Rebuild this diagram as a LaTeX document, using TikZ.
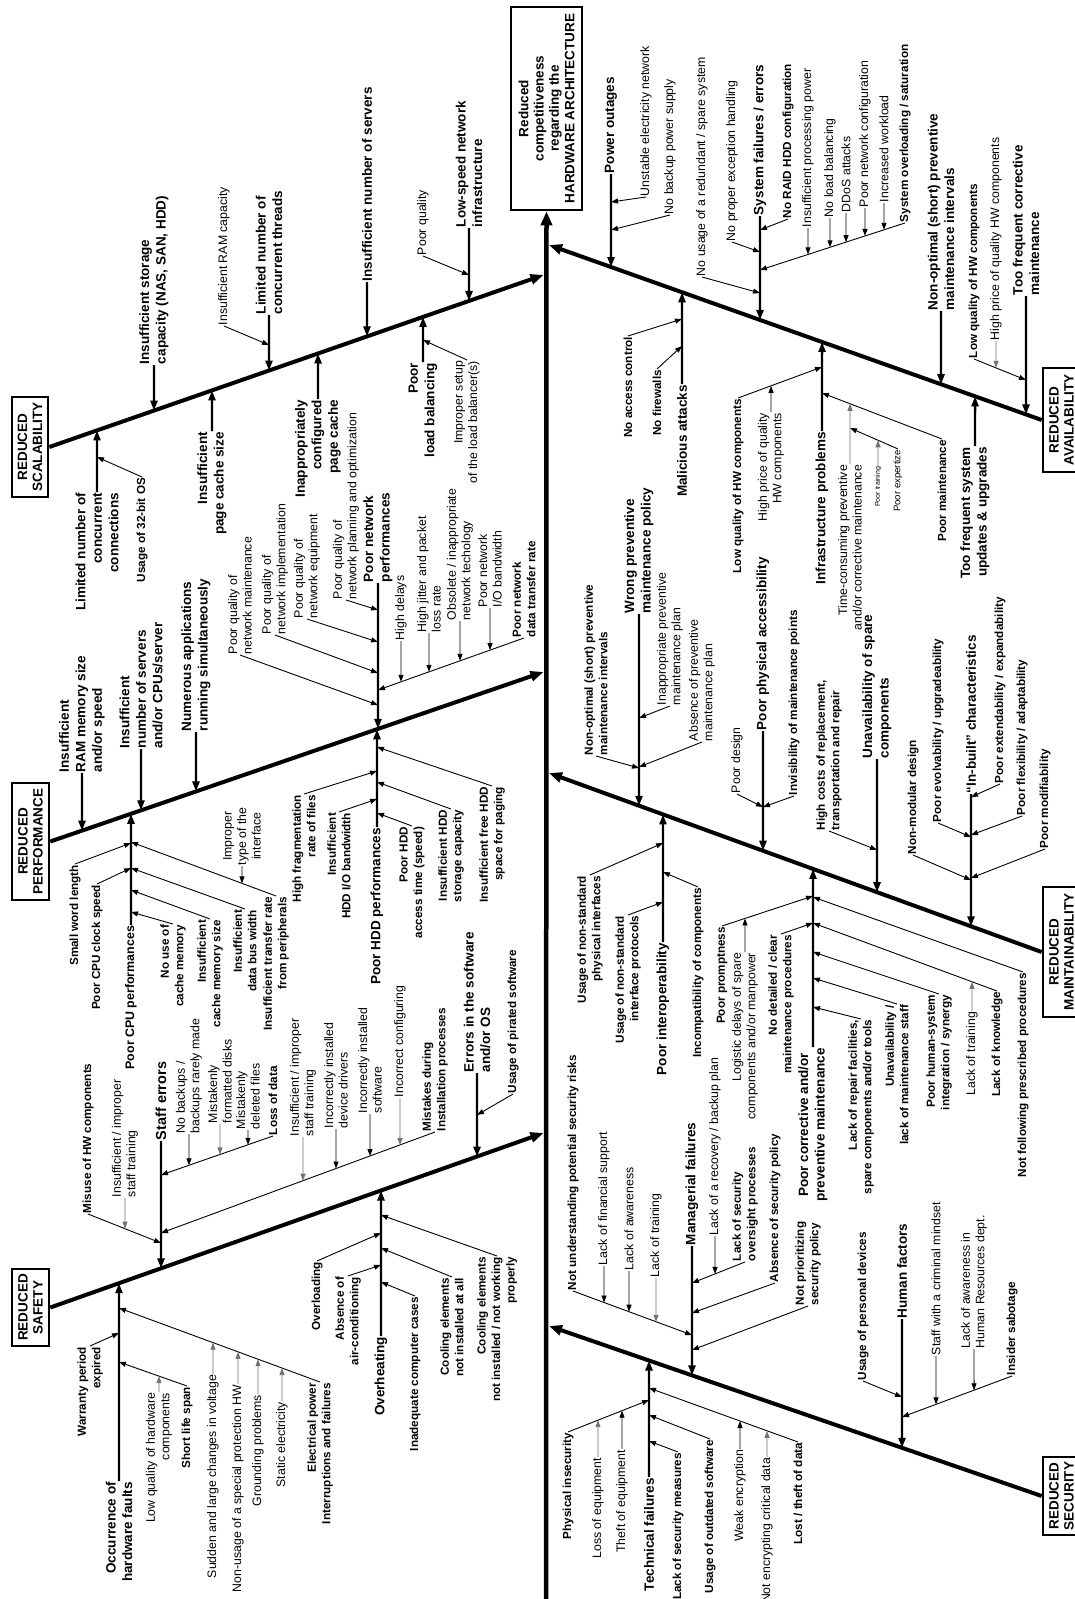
\documentclass[tikz,border=0pt]{standalone}
\usepackage{fontspec}
\setmainfont{Liberation Sans}
\usetikzlibrary{arrows.meta}
\tikzset{
  lbl/.style={rotate=90, inner sep=0.8pt},
  bb/.style={lbl, font=\bfseries\fontsize{13.5}{16.5}\selectfont},
  bm/.style={lbl, font=\bfseries\fontsize{12.4}{15}\selectfont},
  bs/.style={lbl, font=\bfseries\fontsize{11.7}{14.5}\selectfont},
  rr/.style={lbl, font=\fontsize{12.3}{14.5}\selectfont},
  outbox/.style={draw, line width=2.6pt, rotate=90, inner sep=0pt, align=center, font=\bfseries\fontsize{13.5}{15}\selectfont},
  spine/.style={line width=4.5pt, -{Triangle[length=14pt,width=11pt]}},
  rib/.style={line width=4pt, -{Triangle[length=13pt,width=10pt]}},
  stem/.style={line width=2.4pt, -{Triangle[length=10pt,width=7pt]}},
  sub/.style={line width=0.9pt, -{Triangle[length=7pt,width=5pt]}},
  greyline/.style={draw=black!55},
}
\newcommand{\fbdown}[2]{\draw[stem] (#1.west) -- (intersection of #2a--#2b and #1.west--#1.east);}
\newcommand{\fbup}[2]{\draw[stem] (#1.east) -- (intersection of #2a--#2b and #1.west--#1.east);}
\newcommand{\fbonto}[4]{\draw[sub] (#1.#2) -- (intersection of #3--#4 and #1.west--#1.east);}
\newcommand{\fbontog}[4]{\draw[sub,greyline] (#1.#2) -- (intersection of #3--#4 and #1.west--#1.east);}
\begin{document}
\begin{tikzpicture}[x=1pt,y=-1pt]
\useasboundingbox (0,0) rectangle (1075,1599);
\clip (0,0) rectangle (1075,1599);
\fill[white] (0,0) rectangle (1075,1599);

% ---------- boxes ----------
\node[outbox, minimum width=203, minimum height=71, font=\bfseries\fontsize{13.5}{15.3}\selectfont] (head) at (546.5,108.5) {Reduced\\competitiveness\\regarding the\\HARDWARE ARCHITECTURE};
\node[outbox, minimum width=100, minimum height=36] (scal) at (30,447) {REDUCED\\SCALABILITY};
\node[outbox, minimum width=117, minimum height=37] (perf) at (30.5,841.5) {REDUCED\\PERFORMANCE};
\node[outbox, minimum width=77, minimum height=37] (safe) at (30.5,1307.5) {REDUCED\\SAFETY};
\node[outbox, minimum width=104, minimum height=37] (avail) at (1061.5,420) {REDUCED\\AVAILABILITY};
\node[outbox, minimum width=130, minimum height=37] (maint) at (1061.5,952) {REDUCED\\MAINTAINABILITY};
\node[outbox, minimum width=78, minimum height=37] (sec) at (1061.5,1496) {REDUCED\\SECURITY};

\coordinate (r1a) at (scal.south);  \coordinate (r1b) at (543.5,275);
\coordinate (r2a) at (perf.south);  \coordinate (r2b) at (543.5,672);
\coordinate (r3a) at (safe.south);  \coordinate (r3b) at (543.5,1133);
\coordinate (r4a) at (avail.north); \coordinate (r4b) at (549,245);
\coordinate (r5a) at (maint.north); \coordinate (r5b) at (549,773);
\coordinate (r6a) at (sec.north);   \coordinate (r6b) at (549,1326);
\coordinate (spb) at (546,1615);

\draw[spine] (spb) -- (head.west);
\foreach \r in {r1,r2,r3,r4,r5,r6} {\draw[rib] (\r a) -- (\r b);}

% ---------- SCALABILITY ----------
\node[bb, anchor=west, align=left] (a1) at (154,365) {Insufficient storage\\capacity (NAS, SAN, HDD)};
\fbdown{a1}{r1}
\node[bb, anchor=west, align=left] (a2) at (269,315) {Limited number of\\concurrent threads};
\fbdown{a2}{r1}
\node[rr, anchor=west] (a2a) at (224,326) {Insufficient RAM capacity};
\draw[sub] (a2a.west) -- (a2.west |- 0,345);
\node[bb, anchor=west] (a3) at (367,282) {Insufficient number of servers};
\fbdown{a3}{r1}
\node[bb, anchor=west, align=left] (a4) at (469,228) {Low-speed network\\infrastructure};
\fbdown{a4}{r1}
\node[rr, anchor=west] (a4a) at (423,256) {Poor quality};
\draw[sub] (a4a.west) -- (a4.west |- 0,275);
\node[bb, anchor=east, align=right] (a5) at (97,492) {Limited number of\\concurrent\\connections};
\fbup{a5}{r1}
\node[bs, anchor=east] (a5a) at (142,477) {Usage of 32-bit OS};
\draw[sub] (a5a.east) -- (a5.east |- 0,457);
\node[bb, anchor=east, align=right] (a6) at (212,431) {Insufficient\\page cache size};
\fbup{a6}{r1}
\node[bb, anchor=east, align=right] (a7) at (318,399) {Inappropriately\\configured\\page cache};
\fbup{a7}{r1}
\node[bb, anchor=east, align=right] (a8) at (423,362) {Poor\\load balancing};
\fbup{a8}{r1}
\node[rr, anchor=east, align=right] (a8a) at (467,360) {Improper setup\\of the load balancer(s)};
\draw[sub] (a8a.east) -- (a8.east |- 0,340);

% ---------- PERFORMANCE ----------
\node[bb, anchor=west, align=left] (b1) at (82,773) {Insufficient\\RAM memory size\\and/or speed};
\fbdown{b1}{r2}
\node[bb, anchor=west, align=left] (b2) at (141,749) {Insufficient\\number of servers\\and/or CPUs/server};
\fbdown{b2}{r2}
\node[bb, anchor=west, align=left] (b3) at (196,732) {Numerous applications\\running simultaneously};
\fbdown{b3}{r2}
\node[bb, anchor=west, align=left] (b4) at (378,583) {Poor network\\performances};
\fbdown{b4}{r2}
\node[rr, anchor=west, align=left] (b4a) at (240,655) {Poor quality of\\network maintenance};
\draw[sub] (b4a.west) -- (b4.west |- 0,705);
\node[rr, anchor=west, align=left] (b4b) at (275,635) {Poor quality of\\network implementation};
\draw[sub] (b4b.west) -- (b4.west |- 0,673);
\node[rr, anchor=west, align=left] (b4c) at (307,619) {Poor quality of\\network equipment};
\draw[sub] (b4c.west) -- (b4.west |- 0,642);
\node[rr, anchor=west, align=left] (b4d) at (346,600) {Poor quality of\\network planning and optimization};
\draw[sub] (b4d.west) -- (b4.west |- 0,610);
\node[bs, anchor=west, align=left] (b4s) at (524,638) {Poor network\\data transfer rate};
\draw[sub] (b4s.west) coordinate (b4sA) -- (b4.west |- 0,690) coordinate (b4sB);
\node[rr, anchor=west] (b4e) at (401,641) {High delays};
\fbonto{b4e}{west}{b4sA}{b4sB}
\node[rr, anchor=west, align=left] (b4f) at (429,633) {High jitter and packet\\loss rate};
\fbonto{b4f}{west}{b4sA}{b4sB}
\node[rr, anchor=west, align=left] (b4g) at (460,621) {Obsolete / inappropriate\\network techology};
\fbonto{b4g}{west}{b4sA}{b4sB}
\node[rr, anchor=west, align=left] (b4h) at (490,608) {Poor network\\I/O bandwidth};
\fbonto{b4h}{west}{b4sA}{b4sB}

\node[bm, anchor=east] (b5) at (131,925) {Poor CPU performances};
\fbup{b5}{r2}
\node[bs, anchor=east] (b5a) at (75,864) {Small word length};
\draw[sub] (b5a.east) -- (b5.east |- 0,843);
\node[bs, anchor=east] (b5b) at (97,884) {Poor CPU clock speed};
\draw[sub] (b5b.east) -- (b5.east |- 0,868);
\node[bs, anchor=east, align=right] (b5c) at (173,924) {No use of\\cache memory};
\draw[sub] (b5c.east) -- (b5.east |- 0,912);
\node[bs, anchor=east, align=right] (b5d) at (210,919) {Insufficient\\cache memory size};
\draw[sub] (b5d.east) -- (b5.east |- 0,890);
\node[bs, anchor=east, align=right] (b5e) at (245,909) {Insufficient\\data bus width};
\draw[sub] (b5e.east) -- (b5.east |- 0,868);
\node[bs, anchor=east, align=right] (b5f) at (276,896) {Insufficient transfer rate\\from peripherals};
\draw[sub] (b5f.east) coordinate (b5fA) -- (b5.east |- 0,842) coordinate (b5fB);
\node[rr, anchor=west, align=center] (b5g) at (242,866) {Improper\\type of the\\interface};
\fbonto{b5g}{west}{b5fA}{b5fB}

\node[bb, anchor=east] (b6) at (377,827) {Poor HDD performances};
\fbup{b6}{r2}
\node[bs, anchor=east, align=right] (b6a) at (304,794) {High fragmentation\\rate of files};
\draw[sub] (b6a.east) -- (b6.east |- 0,771);
\node[bs, anchor=east, align=right] (b6b) at (339,812) {Insufficient\\HDD I/O bandwidth};
\draw[sub] (b6b.east) -- (b6.east |- 0,799);
\node[bs, anchor=east, align=right] (b6c) at (412,826) {Poor HDD\\access time (speed)};
\draw[sub] (b6c.east) -- (b6.east |- 0,813);
\node[bs, anchor=east, align=right] (b6d) at (451,809) {Insufficient HDD\\storage capacity};
\draw[sub] (b6d.east) -- (b6.east |- 0,782);
\node[bs, anchor=east, align=right] (b6e) at (492,786) {Insufficient free HDD\\space for paging};
\draw[sub] (b6e.east) -- (b6.east |- 0,747);

% ---------- SAFETY ----------
\node[lbl, font=\bfseries\fontsize{14.5}{17}\selectfont, anchor=west] (c1) at (161,1141) {Staff errors};
\fbdown{c1}{r3}
\node[bs, anchor=west] (c1a) at (88,1214) {Misuse of HW components};
\draw[sub] (c1a.west) coordinate (c1aA) -- (c1.west |- 0,1243) coordinate (c1aB);
\node[rr, anchor=west, align=left] (c1a1) at (125,1198) {Insufficient / improper\\staff training};
\fbontog{c1a1}{west}{c1aA}{c1aB}
\node[bs, anchor=west] (c1s) at (273,1136) {Loss of data};
\draw[sub] (c1s.west) coordinate (c1sA) -- (c1.west |- 0,1175) coordinate (c1sB);
\node[rr, anchor=west, align=left] (c1b) at (189,1134) {No backups /\\backups rarely made};
\fbonto{c1b}{west}{c1sA}{c1sB}
\node[rr, anchor=west, align=left] (c1c) at (220,1124) {Mistakenly\\formatted disks};
\fbontog{c1c}{west}{c1sA}{c1sB}
\node[rr, anchor=west, align=left] (c1d) at (248,1130) {Mistakenly\\deleted files};
\fbonto{c1d}{west}{c1sA}{c1sB}
\node[bs, anchor=west, align=left] (c1t) at (435,1132) {Mistakes during\\Installation processes};
\draw[sub] (c1t.west) coordinate (c1tA) -- (c1.west |- 0,1233) coordinate (c1tB);
\node[rr, anchor=west, align=left] (c1t1) at (303,1137) {Insufficient / improper\\staff training};
\fbontog{c1t1}{west}{c1tA}{c1tB}
\node[rr, anchor=west, align=left] (c1t2) at (336,1129) {Incorrectly installed\\device drivers};
\fbonto{c1t2}{west}{c1tA}{c1tB}
\node[rr, anchor=west, align=left] (c1t3) at (370,1114) {Incorrectly installed\\software};
\fbonto{c1t3}{west}{c1tA}{c1tB}
\node[rr, anchor=west] (c1t4) at (400,1098) {Incorrect configuring};
\fbontog{c1t4}{west}{c1tA}{c1tB}
\node[bb, anchor=west, align=left] (c2) at (477,1073) {Errors in the software\\and/or OS};
\fbdown{c2}{r3}
\node[bs, anchor=west] (c2a) at (513,1094) {Usage of pirated software};
\draw[sub] (c2a.west) -- (c2.west |- 0,1115);

\node[bb, anchor=east, align=right] (c3) at (119,1481) {Occurrence of\\hardware faults};
\fbup{c3}{r3}
\node[bs, anchor=east, align=right] (c3a) at (90,1346) {Warranty period\\expired};
\draw[sub] (c3a.east) -- (c3.east |- 0,1333);
\node[bs, anchor=east] (c3b) at (187,1386) {Short life span};
\draw[sub] (c3b.east) coordinate (c3bA) -- (c3.east |- 0,1362) coordinate (c3bB);
\node[rr, anchor=east, align=right] (c3b1) at (159,1392) {Low quality of hardware\\components};
\fbontog{c3b1}{east}{c3bA}{c3bB}
\node[bs, anchor=east, align=right] (c3s) at (320,1382) {Electrical power\\Interruptions and failures};
\draw[sub] (c3s.east) coordinate (c3sA) -- (c3.east |- 0,1308) coordinate (c3sB);
\node[rr, anchor=east] (c3s1) at (213,1374) {Sudden and large changes in voltage};
\fbontog{c3s1}{east}{c3sA}{c3sB}
\node[rr, anchor=east] (c3s2) at (238,1384) {Non-usage of a special protection HW};
\fbontog{c3s2}{east}{c3sA}{c3sB}
\node[rr, anchor=east] (c3s3) at (258,1394) {Grounding problems};
\fbontog{c3s3}{east}{c3sA}{c3sB}
\node[rr, anchor=east] (c3s4) at (282,1401) {Static electricity};
\fbontog{c3s4}{east}{c3sA}{c3sB}
\node[bb, anchor=east] (c4) at (381,1336) {Overheating};
\fbup{c4}{r3}
\node[bs, anchor=east] (c4a) at (317,1261) {Overloading};
\draw[sub] (c4a.east) -- (c4.east |- 0,1233);
\node[bs, anchor=east, align=right] (c4b) at (348,1276) {Absence of\\air-conditioning};
\draw[sub] (c4b.east) -- (c4.east |- 0,1265);
\node[bs, anchor=east] (c4c) at (415,1296) {Inadequate computer cases};
\draw[sub] (c4c.east) -- (c4.east |- 0,1282);
\node[bs, anchor=east, align=right] (c4d) at (452,1277) {Cooling elements\\not installed at all};
\draw[sub] (c4d.east) -- (c4.east |- 0,1248);
\node[bs, anchor=east, align=right] (c4e) at (497,1256) {Cooling elements\\not installed / not working\\properly};
\draw[sub] (c4e.east) -- (c4.east |- 0,1215);

% ---------- AVAILABILITY ----------
\node[bb, anchor=west] (d1) at (611,174) {Power outages};
\fbdown{d1}{r4}
\node[rr, anchor=west] (d1a) at (646,197) {Unstable electricity network};
\draw[sub] (d1a.west) -- (d1.west |- 0,202);
\node[rr, anchor=west] (d1b) at (670,215) {No backup power supply};
\draw[sub] (d1b.west) -- (d1.west |- 0,230);
\node[bb, anchor=west] (d2) at (760,216) {System failures / errors};
\fbdown{d2}{r4}
\node[rr, anchor=west] (d2a) at (702,277) {No usage of a redundant / spare system};
\draw[sub] (d2a.west) -- (d2.west |- 0,293);
\node[rr, anchor=west] (d2b) at (732,242) {No proper exception handling};
\draw[sub] (d2b.west) -- (d2.west |- 0,252);
\node[bs, anchor=west] (d2c) at (788,219) {No RAID HDD configuration};
\draw[sub] (d2c.west) -- (d2.west |- 0,230);
\node[bs, anchor=west] (d2s) at (905,223) {System overloading / saturation};
\draw[sub] (d2s.west) coordinate (d2sA) -- (d2.west |- 0,270) coordinate (d2sB);
\node[rr, anchor=west] (d2s1) at (808,228) {Insufficient processing power};
\fbonto{d2s1}{west}{d2sA}{d2sB}
\node[rr, anchor=west] (d2s2) at (830,218) {No load balancing};
\fbonto{d2s2}{west}{d2sA}{d2sB}
\node[rr, anchor=west] (d2s3) at (846,213) {DDoS attacks};
\fbonto{d2s3}{west}{d2sA}{d2sB}
\node[rr, anchor=west] (d2s4) at (865,208) {Poor network configuration};
\fbonto{d2s4}{west}{d2sA}{d2sB}
\node[rr, anchor=west] (d2s5) at (884,203) {Increased workload};
\fbonto{d2s5}{west}{d2sA}{d2sB}
\node[bb, anchor=west, align=left] (d3) at (941,311) {Non-optimal (short) preventive\\maintenance intervals};
\fbdown{d3}{r4}
\node[bb, anchor=west, align=left] (d4) at (1026,296) {Too frequent corrective\\maintenance};
\fbdown{d4}{r4}
\node[bs, anchor=west] (d4a) at (974,359) {Low quality of HW components};
\draw[sub] (d4a.west) coordinate (d4aA) -- (d4.west |- 0,380) coordinate (d4aB);
\node[rr, anchor=west] (d4a1) at (996,341) {High price of quality HW components};
\fbontog{d4a1}{west}{d4aA}{d4aB}

\node[bb, anchor=east] (d5) at (682,384) {Malicious attacks};
\fbup{d5}{r4}
\node[bs, anchor=east] (d5a) at (628,336) {No access control};
\draw[sub] (d5a.east) -- (d5.east |- 0,319);
\node[bs, anchor=east] (d5b) at (657,369) {No firewalls};
\draw[sub] (d5b.east) -- (d5.east |- 0,346);
\node[bb, anchor=east] (d6) at (822,431) {Infrastructure problems};
\fbup{d6}{r4}
\node[bs, anchor=east] (d6a) at (738,398) {Low quality of HW components};
\draw[sub] (d6a.east) coordinate (d6aA) -- (d6.east |- 0,367) coordinate (d6aB);
\node[rr, anchor=east, align=right] (d6a1) at (771,412) {High price of quality\\HW components};
\fbonto{d6a1}{east}{d6aA}{d6aB}
\node[bs, anchor=east] (d6s) at (942,439) {Poor maintenance};
\draw[sub] (d6s.east) coordinate (d6sA) -- (d6.east |- 0,393) coordinate (d6sB);
\node[rr, anchor=east, align=right] (d6s1) at (850,464) {Time-consuming preventive\\and/or corrective maintenance};
\fbontog{d6s1}{east}{d6sA}{d6sB}
\node[lbl, font=\fontsize{9.6}{11}\selectfont, anchor=east] (d6s1a) at (898,449) {Poor expertize};
\draw[sub] (d6s1a.east) coordinate (d6tA) -- (d6s1.east |- 0,428) coordinate (d6tB);
\node[lbl, font=\fontsize{7}{8}\selectfont, anchor=east] (d6s1b) at (878,466) {Poor training};
\fbontog{d6s1b}{east}{d6tA}{d6tB}
\node[bb, anchor=east, align=right] (d7) at (975,446) {Too frequent system\\updates \& upgrades};
\fbup{d7}{r4}

% ---------- MAINTAINABILITY ----------
\node[bb, anchor=west, align=left] (e1) at (639,614) {Wrong preventive\\maintenance policy};
\fbdown{e1}{r5}
\node[bs, anchor=west, align=left] (e1a) at (596,756) {Non-optimal (short) preventive\\maintenance intervals};
\draw[sub] (e1a.west) -- (e1.west |- 0,768);
\node[rr, anchor=west, align=left] (e1b) at (670,706) {Inappropriate preventive\\maintenance plan};
\draw[sub] (e1b.west) -- (e1.west |- 0,718);
\node[rr, anchor=west, align=left] (e1c) at (702,742) {Absence of preventive\\maintenance plan};
\draw[sub] (e1c.west) -- (e1.west |- 0,767);
\node[bb, anchor=west] (e2) at (763,731) {Poor physical accessibility};
\fbdown{e2}{r5}
\node[rr, anchor=west] (e2a) at (737,794) {Poor design};
\draw[sub] (e2a.west) -- (e2.west |- 0,807);
\node[bs, anchor=west] (e2b) at (794,796) {Invisibility of maintenance points};
\draw[sub] (e2b.west) -- (e2.west |- 0,807);
\node[bb, anchor=west, align=left] (e3) at (877,759) {Unavailability of spare\\components};
\fbdown{e3}{r5}
\node[bs, anchor=west, align=left] (e3a) at (829,831) {High costs of replacement,\\transportation and repair};
\draw[sub] (e3a.west) -- (e3.west |- 0,850);
\node[bb, anchor=west] (e4) at (971,794) {“In-built” characteristics};
\fbdown{e4}{r5}
\node[bs, anchor=west] (e4a) at (1000,784) {Poor extendability / expandability};
\draw[sub] (e4a.west) -- (e4.west |- 0,797);
\node[bs, anchor=west] (e4b) at (1022,816) {Poor flexibility / adaptability};
\draw[sub] (e4b.west) -- (e4.west |- 0,835);
\node[bs, anchor=west] (e4c) at (1045,849) {Poor modifiability};
\draw[sub] (e4c.west) -- (e4.west |- 0,878);
\node[bs, anchor=west] (e4d) at (938,823) {Poor evolvability / upgradeability};
\draw[sub] (e4d.west) -- (e4.west |- 0,837);
\node[bs, anchor=west] (e4e) at (913,855) {Non-modular design};
\draw[sub] (e4e.west) -- (e4.west |- 0,880);

\node[bb, anchor=east] (e5) at (663,942) {Poor interoperability};
\fbup{e5}{r5}
\node[bs, anchor=east, align=right] (e5a) at (590,875) {Usage of non-standard\\physical interfaces};
\draw[sub] (e5a.east) -- (e5.east |- 0,843);
\node[bs, anchor=east, align=right] (e5b) at (628,915) {Usage of non-standard\\interface protocols};
\draw[sub] (e5b.east) -- (e5.east |- 0,902);
\node[bs, anchor=east] (e5c) at (698,887) {Incompatibility of components};
\draw[sub] (e5c.east) -- (e5.east |- 0,872);
\node[bb, anchor=east, align=center] (e6) at (813,1047) {Poor corrective and/or\\preventive maintenance};
\fbup{e6}{r5}
\node[bs, anchor=east] (e6a) at (722,926) {Poor promptness};
\draw[sub] (e6a.east) coordinate (e6aA) -- (e6.east |- 0,896) coordinate (e6aB);
\node[rr, anchor=east, align=right] (e6a1) at (745,952) {Logistic delays of spare\\components and/or manpower};
\fbonto{e6a1}{east}{e6aA}{e6aB}
\node[bs, anchor=east, align=right] (e6b) at (781,934) {No detailed / clear\\maintenance procedures};
\draw[sub] (e6b.east) -- (e6.east |- 0,923);
\node[bs, anchor=east, align=right] (e6d) at (861,1019) {Lack of repair facilities,\\spare components and/or tools};
\draw[sub] (e6d.east) -- (e6.east |- 0,1007);
\node[bs, anchor=east, align=right] (e6e) at (897,1004) {Unavailability /\\lack of maintenance staff};
\draw[sub] (e6e.east) -- (e6.east |- 0,978);
\node[bs, anchor=east, align=right] (e6f) at (939,994) {Poor human-system\\integration / synergy};
\draw[sub] (e6f.east) -- (e6.east |- 0,952);
\node[bs, anchor=east] (e6g) at (997,991) {Lack of knowledge};
\draw[sub] (e6g.east) coordinate (e6gA) -- (e6.east |- 0,923) coordinate (e6gB);
\node[rr, anchor=east] (e6g1) at (972,1011) {Lack of training};
\fbontog{e6g1}{east}{e6gA}{e6gB}
\node[bs, anchor=east] (e6h) at (1023,972) {Not following prescribed procedures};
\draw[sub] (e6h.east) -- (e6.east |- 0,897);

% ---------- SECURITY ----------
\node[bb, anchor=west] (f1) at (692,1246) {Managerial failures};
\fbdown{f1}{r6}
\node[bs, anchor=west] (f1a) at (573,1291) {Not understanding potential security risks};
\draw[sub] (f1a.west) coordinate (f1aA) -- (f1.west |- 0,1335) coordinate (f1aB);
\node[rr, anchor=west] (f1a1) at (604,1266) {Lack of financial support};
\fbonto{f1a1}{west}{f1aA}{f1aB}
\node[rr, anchor=west] (f1a2) at (629,1271) {Lack of awareness};
\fbonto{f1a2}{west}{f1aA}{f1aB}
\node[rr, anchor=west] (f1a3) at (656,1278) {Lack of training};
\fbontog{f1a3}{west}{f1aA}{f1aB}
\node[bs, anchor=west, align=left] (f1c) at (745,1262) {Lack of security\\oversight processes};
\draw[sub] (f1c.west) coordinate (f1cA) -- (f1.west |- 0,1283) coordinate (f1cB);
\node[rr, anchor=west] (f1b) at (715,1236) {Lack of a recovery / backup plan};
\fbonto{f1b}{west}{f1cA}{f1cB}
\node[bs, anchor=west] (f1d) at (775,1283) {Absence of security policy};
\draw[sub] (f1d.west) -- (f1.west |- 0,1313);
\node[bs, anchor=west, align=left] (f1e) at (808,1306) {Not prioritizing\\security policy};
\draw[sub] (f1e.west) -- (f1.west |- 0,1350);
\node[bb, anchor=west] (f2) at (902,1319) {Human factors};
\fbdown{f2}{r6}
\node[bs, anchor=west] (f2a) at (863,1381) {Usage of personal devices};
\draw[sub] (f2a.west) -- (f2.west |- 0,1397);
\node[bs, anchor=west] (f2s) at (1012,1376) {Insider sabotage};
\draw[sub] (f2s.west) coordinate (f2sA) -- (f2.west |- 0,1417) coordinate (f2sB);
\node[rr, anchor=west] (f2s1) at (936,1356) {Staff with a criminal mindset};
\fbonto{f2s1}{west}{f2sA}{f2sB}
\node[rr, anchor=west, align=left] (f2s2) at (974,1349) {Lack of awareness in\\Human Resources dept.};
\fbonto{f2s2}{west}{f2sA}{f2sB}

\node[bb, anchor=east] (f3) at (649,1477) {Technical failures};
\fbup{f3}{r6}
\node[bs, anchor=east] (f3a) at (568,1432) {Physical insecurity};
\draw[sub] (f3a.east) coordinate (f3aA) -- (f3.east |- 0,1400) coordinate (f3aB);
\node[rr, anchor=east] (f3a1) at (598,1457) {Loss of equipment};
\fbontog{f3a1}{east}{f3aA}{f3aB}
\node[rr, anchor=east] (f3a2) at (622,1449) {Theft of equipment};
\fbonto{f3a2}{east}{f3aA}{f3aB}
\node[bs, anchor=east] (f3b) at (678,1452) {Lack of security measures};
\draw[sub] (f3b.east) -- (f3.east |- 0,1441);
\node[bs, anchor=east] (f3c) at (710,1439) {Usage of outdated software};
\draw[sub] (f3c.east) -- (f3.east |- 0,1415);
\node[bs, anchor=east] (f3s) at (798,1442) {Lost / theft of data};
\draw[sub] (f3s.east) coordinate (f3sA) -- (f3.east |- 0,1388) coordinate (f3sB);
\node[rr, anchor=east] (f3s1) at (740,1449) {Weak encryption};
\fbonto{f3s1}{east}{f3sA}{f3sB}
\node[rr, anchor=east] (f3s2) at (767,1457) {Not encrypting critical data};
\fbontog{f3s2}{east}{f3sA}{f3sB}
\end{tikzpicture}
\end{document}
